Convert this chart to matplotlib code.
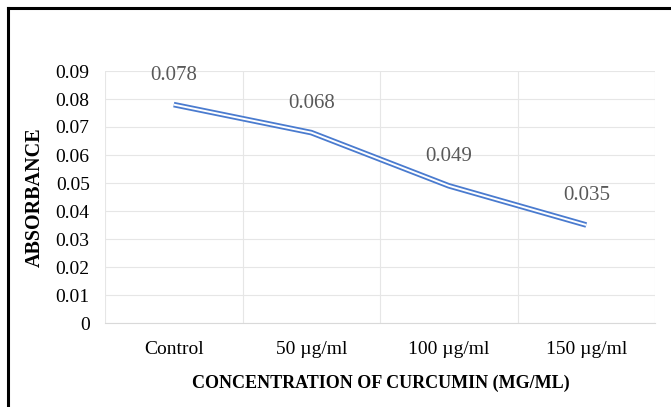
import matplotlib
matplotlib.use("Agg")
import matplotlib.pyplot as plt
from matplotlib.lines import Line2D

categories = ["Control", "50 µg/ml", "100 µg/ml", "150 µg/ml"]
absorbance = [0.078, 0.068, 0.049, 0.035]
labels = ["0.078", "0.068", "0.049", "0.035"]
yticks = [0, 0.01, 0.02, 0.03, 0.04, 0.05, 0.06, 0.07, 0.08, 0.09]
ytick_labels = ["0", "0.01", "0.02", "0.03", "0.04", "0.05", "0.06", "0.07", "0.08", "0.09"]

W, H = 671, 407
fig = plt.figure(figsize=(W / 100, H / 100), dpi=100)
fig.patch.set_facecolor("white")
left, right, top, bottom = 105, 655, 71, 323
ax = fig.add_axes([left / W, 1 - bottom / H, (right - left) / W, (bottom - top) / H])

serif = ["Liberation Serif", "DejaVu Serif"]
x = list(range(len(categories)))
ax.plot(x, absorbance, color="#4a7bcf", lw=4.0, solid_capstyle="butt", solid_joinstyle="round", zorder=3)
ax.plot(x, absorbance, color="white", lw=1.4, solid_capstyle="butt", solid_joinstyle="round", zorder=4)

for xi, yi, lab in zip(x, absorbance, labels):
    ax.annotate(lab, (xi, yi), xytext=(0, 21), textcoords="offset points",
                ha="center", va="center", fontsize=15, color="#595959", family=serif)

ax.set_xlim(-0.5, len(categories) - 0.5)
ax.set_ylim(0, 0.09)
ax.set_yticks(yticks)
ax.set_yticklabels(ytick_labels, family=serif, fontsize=14)
ax.set_xticks(x)
ax.set_xticklabels(categories, family=serif, fontsize=14)
ax.tick_params(axis="both", length=0, colors="black")
ax.tick_params(axis="y", pad=11)
ax.tick_params(axis="x", pad=13)

for yv in yticks:
    ax.axhline(yv, color="#e6e6e6", lw=0.8, zorder=1)
for xv in [0.5, 1.5, 2.5, 3.5]:
    ax.axvline(xv, color="#e6e6e6", lw=0.8, zorder=1)
ax.axvline(-0.5, color="#e6e6e6", lw=0.8, zorder=1)
for s in ["top", "right", "left"]:
    ax.spines[s].set_visible(False)
ax.spines["bottom"].set_color("#d9d9d9")
ax.spines["bottom"].set_linewidth(0.8)

fig.text(35 / W, 1 - 197 / H, "ABSORBANCE", rotation=90, ha="center", va="center",
         fontsize=14.5, fontweight="bold", family=serif)
fig.text(381 / W, 1 - 383 / H, "CONCENTRATION OF CURCUMIN (MG/ML)", ha="center", va="center",
         fontsize=13, fontweight="bold", family=serif)

# frame lines (top and left)
fig.add_artist(Line2D([8 / W, 1], [1 - 8 / H, 1 - 8 / H], transform=fig.transFigure, color="black", lw=2.2))
fig.add_artist(Line2D([8 / W, 8 / W], [0, 1 - 8 / H], transform=fig.transFigure, color="black", lw=2.2))

fig.savefig("out.png", dpi=100)
